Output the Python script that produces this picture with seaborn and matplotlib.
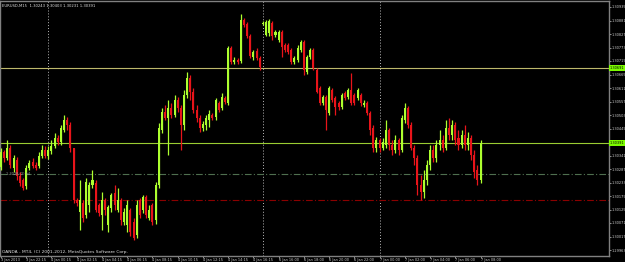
import matplotlib
matplotlib.use("Agg")
import matplotlib.pyplot as plt
import matplotlib.transforms as mtransforms
import numpy as np
import pandas as pd
import seaborn as sns

symbol = "EURUSD,M15"
copyright_text = "OANDA - MT4, (C) 2001-2012, MetaQuotes Software Corp."

opens = [1.30295, 1.30355, 1.30331, 1.30371, 1.30291, 1.30323, 1.30259, 1.30243, 1.30219, 1.30291,
         1.30315, 1.30303, 1.30299, 1.30339, 1.30363, 1.30339, 1.30359, 1.30379, 1.30411, 1.30395,
         1.30443, 1.30483, 1.30463, 1.30371, 1.30163, 1.30115, 1.30151, 1.30103, 1.30143, 1.30223,
         1.30231, 1.30143, 1.30103, 1.30163, 1.30063, 1.30131, 1.30191, 1.30123, 1.30163, 1.30075,
         1.30063, 1.30123, 1.30075, 1.30023, 1.30163, 1.30123, 1.30175, 1.30091, 1.30143, 1.30083,
         1.30223, 1.30443, 1.30515, 1.30491, 1.30531, 1.30503, 1.30563, 1.30531, 1.30463, 1.30583,
         1.30651, 1.30595, 1.30523, 1.30491, 1.30451, 1.30463, 1.30483, 1.30503, 1.30495, 1.30551,
         1.30531, 1.30571, 1.30551, 1.30771, 1.30715, 1.30723, 1.30719, 1.30883, 1.30867, 1.30819,
         1.30735, 1.30759, 1.30731, 1.30867, 1.30823, 1.30831, 1.30871, 1.30823, 1.30803, 1.30835,
         1.30783, 1.30783, 1.30763, 1.30715, 1.30723, 1.30763, 1.30795, 1.30675, 1.30735, 1.30763,
         1.30683, 1.30611, 1.30551, 1.30575, 1.30511, 1.30603, 1.30571, 1.30551, 1.30535, 1.30591,
         1.30575, 1.30603, 1.30583, 1.30571, 1.30583, 1.30543, 1.30551, 1.30511, 1.30451, 1.30371,
         1.30403, 1.30371, 1.30383, 1.30443, 1.30383, 1.30363, 1.30403, 1.30363, 1.30483, 1.30531,
         1.30463, 1.30371, 1.30331, 1.30223, 1.30195, 1.30243, 1.30303, 1.30363, 1.30331, 1.30383,
         1.30403, 1.30371, 1.30451, 1.30423, 1.30463, 1.30411, 1.30383, 1.30423, 1.30383, 1.30411,
         1.30343, 1.30283, 1.30243]

highs = [1.30371, 1.30363, 1.30403, 1.30383, 1.30343, 1.30335, 1.30275, 1.30251, 1.30303, 1.30323,
         1.30331, 1.30315, 1.30355, 1.30383, 1.30379, 1.30379, 1.30403, 1.30431, 1.30423, 1.30463,
         1.30503, 1.30495, 1.30475, 1.30371, 1.30171, 1.30243, 1.30163, 1.30251, 1.30235, 1.30283,
         1.30243, 1.30151, 1.30195, 1.30171, 1.30143, 1.30191, 1.30223, 1.30211, 1.30171, 1.30131,
         1.30163, 1.30131, 1.30091, 1.30163, 1.30171, 1.30183, 1.30183, 1.30143, 1.30151, 1.30235,
         1.30471, 1.30531, 1.30543, 1.30563, 1.30551, 1.30583, 1.30575, 1.30543, 1.30603, 1.30675,
         1.30663, 1.30611, 1.30543, 1.30503, 1.30479, 1.30503, 1.30523, 1.30511, 1.30571, 1.30559,
         1.30591, 1.30579, 1.30779, 1.30779, 1.30735, 1.30731, 1.30907, 1.30891, 1.30875, 1.30827,
         1.30763, 1.30771, 1.30739, 1.30879, 1.30883, 1.30887, 1.30879, 1.30843, 1.30843, 1.30843,
         1.30791, 1.30791, 1.30771, 1.30739, 1.30783, 1.30803, 1.30803, 1.30743, 1.30771, 1.30771,
         1.30691, 1.30619, 1.30583, 1.30583, 1.30619, 1.30611, 1.30579, 1.30559, 1.30591, 1.30599,
         1.30611, 1.30671, 1.30591, 1.30611, 1.30591, 1.30563, 1.30559, 1.30519, 1.30463, 1.30415,
         1.30411, 1.30411, 1.30483, 1.30451, 1.30403, 1.30423, 1.30411, 1.30503, 1.30551, 1.30539,
         1.30475, 1.30383, 1.30343, 1.30263, 1.30283, 1.30323, 1.30383, 1.30383, 1.30403, 1.30443,
         1.30423, 1.30483, 1.30491, 1.30483, 1.30475, 1.30443, 1.30443, 1.30463, 1.30435, 1.30423,
         1.30363, 1.30303, 1.30403]

lows = [1.30283, 1.30315, 1.30323, 1.30291, 1.30275, 1.30243, 1.30219, 1.30203, 1.30207, 1.30283,
        1.30291, 1.30283, 1.30291, 1.30331, 1.30331, 1.30327, 1.30347, 1.30371, 1.30383, 1.30383,
        1.30435, 1.30443, 1.30355, 1.30151, 1.30139, 1.30043, 1.30075, 1.30091, 1.30115, 1.30211,
        1.30115, 1.30099, 1.30043, 1.30103, 1.30035, 1.30115, 1.30123, 1.30115, 1.30063, 1.30063,
        1.30035, 1.30019, 1.30003, 1.30011, 1.30091, 1.30111, 1.30091, 1.30083, 1.30063, 1.30067,
        1.30211, 1.30431, 1.30483, 1.30343, 1.30491, 1.30495, 1.30515, 1.30363, 1.30443, 1.30571,
        1.30563, 1.30511, 1.30475, 1.30435, 1.30439, 1.30443, 1.30455, 1.30483, 1.30483, 1.30515,
        1.30523, 1.30547, 1.30543, 1.30707, 1.30707, 1.30707, 1.30711, 1.30855, 1.30811, 1.30731,
        1.30723, 1.30723, 1.30683, 1.30863, 1.30819, 1.30819, 1.30803, 1.30815, 1.30795, 1.30735,
        1.30755, 1.30747, 1.30707, 1.30707, 1.30715, 1.30755, 1.30663, 1.30667, 1.30727, 1.30683,
        1.30591, 1.30543, 1.30543, 1.30443, 1.30503, 1.30555, 1.30503, 1.30523, 1.30527, 1.30563,
        1.30567, 1.30543, 1.30543, 1.30563, 1.30539, 1.30535, 1.30503, 1.30423, 1.30355, 1.30355,
        1.30355, 1.30363, 1.30371, 1.30363, 1.30343, 1.30351, 1.30343, 1.30355, 1.30471, 1.30451,
        1.30363, 1.30303, 1.30183, 1.30163, 1.30171, 1.30223, 1.30283, 1.30315, 1.30315, 1.30363,
        1.30355, 1.30363, 1.30403, 1.30403, 1.30383, 1.30363, 1.30371, 1.30363, 1.30363, 1.30323,
        1.30251, 1.30223, 1.30231]

closes = [1.30355, 1.30331, 1.30371, 1.30303, 1.30331, 1.30259, 1.30231, 1.30211, 1.30291, 1.30311,
          1.30299, 1.30291, 1.30339, 1.30363, 1.30339, 1.30363, 1.30379, 1.30411, 1.30395, 1.30451,
          1.30483, 1.30463, 1.30371, 1.30163, 1.30151, 1.30163, 1.30091, 1.30235, 1.30223, 1.30243,
          1.30123, 1.30111, 1.30163, 1.30123, 1.30135, 1.30183, 1.30143, 1.30163, 1.30083, 1.30115,
          1.30143, 1.30035, 1.30011, 1.30143, 1.30103, 1.30175, 1.30103, 1.30123, 1.30075, 1.30223,
          1.30451, 1.30515, 1.30491, 1.30531, 1.30503, 1.30563, 1.30531, 1.30463, 1.30583, 1.30651,
          1.30595, 1.30523, 1.30491, 1.30451, 1.30467, 1.30491, 1.30507, 1.30491, 1.30563, 1.30523,
          1.30575, 1.30555, 1.30771, 1.30715, 1.30723, 1.30715, 1.30883, 1.30863, 1.30819, 1.30739,
          1.30755, 1.30731, 1.30695, 1.30871, 1.30875, 1.30879, 1.30819, 1.30835, 1.30835, 1.30775,
          1.30763, 1.30755, 1.30715, 1.30731, 1.30771, 1.30795, 1.30683, 1.30735, 1.30763, 1.30691,
          1.30595, 1.30551, 1.30575, 1.30523, 1.30611, 1.30563, 1.30535, 1.30535, 1.30583, 1.30571,
          1.30603, 1.30551, 1.30551, 1.30603, 1.30551, 1.30551, 1.30511, 1.30443, 1.30371, 1.30403,
          1.30371, 1.30395, 1.30443, 1.30383, 1.30363, 1.30403, 1.30363, 1.30491, 1.30531, 1.30463,
          1.30371, 1.30331, 1.30223, 1.30195, 1.30243, 1.30303, 1.30363, 1.30331, 1.30383, 1.30403,
          1.30371, 1.30451, 1.30423, 1.30463, 1.30403, 1.30383, 1.30423, 1.30383, 1.30411, 1.30343,
          1.30275, 1.30243, 1.30391]

time_tick_bars = [0, 8, 16, 24, 32, 40, 48, 56, 64, 72, 80, 88, 96, 104, 112, 120, 128, 136, 144, 152]
time_tick_labels = ["3 Jan 2013", "3 Jan 22:15", "4 Jan 00:15", "4 Jan 02:15", "4 Jan 04:15",
                    "4 Jan 06:15", "4 Jan 08:15", "4 Jan 10:15", "4 Jan 12:15", "4 Jan 14:15",
                    "4 Jan 16:15", "6 Jan 16:00", "6 Jan 18:00", "6 Jan 20:00", "6 Jan 22:00",
                    "7 Jan 00:00", "7 Jan 02:00", "7 Jan 04:00", "7 Jan 06:00", "7 Jan 08:00"]
separator_bars = [15, 83, 120]

price_ticks = [1.30935, 1.30881, 1.30827, 1.30773, 1.30719, 1.30665, 1.30611, 1.30557, 1.30503,
               1.30449, 1.30341, 1.30287, 1.30233, 1.30179, 1.30125, 1.30071, 1.30017, 1.29963]
level_upper = 1.30691
level_green_dashdot = 1.30267
level_red_dashdot = 1.30163
level_note = "1.3028 (2) h4"

# ---------------------------------------------------------------------------
sns.set_theme(style="dark", rc={"axes.facecolor": "black", "figure.facecolor": "black",
                                "axes.grid": False})
plt.rcParams["font.family"] = ["DejaVu Sans"]

df = pd.DataFrame({"open": opens, "high": highs, "low": lows, "close": closes})
df["bar"] = np.arange(len(df))
df["bull"] = df["close"] >= df["open"]

bull_col = "#adff2f"
bear_col = "#e8141a"
df["color"] = np.where(df["bull"], bull_col, bear_col)

W, H = 625, 262
fig = plt.figure(figsize=(W / 100, H / 100), dpi=100)
ax = fig.add_axes([0 / W, (H - 256) / H, 609 / W, 255 / H])
ax.set_facecolor("black")

# wicks
ax.vlines(df["bar"], df["low"], df["high"], colors=df["color"], linewidth=0.9, zorder=3)
# bodies
body_bottom = df[["open", "close"]].min(axis=1)
body_height = (df["close"] - df["open"]).abs().clip(lower=0.00002)
ax.bar(df["bar"], body_height, bottom=body_bottom, width=0.64, color=df["color"],
       linewidth=0, zorder=4)

# horizontal levels
last_close = closes[-1]
ax.axhline(level_upper, color="#bdb76b", linewidth=0.8, zorder=2)
ax.axhline(last_close, color="#9acd32", linewidth=0.8, zorder=2)
ax.axhline(level_green_dashdot, color="#4f6f4f", linewidth=0.8, linestyle=(0, (6, 2, 1, 2)), zorder=2)
ax.axhline(level_red_dashdot, color="#8b0000", linewidth=0.8, linestyle=(0, (6, 2, 1, 2)), zorder=2)

# period separators
for b in separator_bars:
    ax.axvline(b, color="#bbbbbb", linewidth=0.7, linestyle=(0, (1, 2)), zorder=1)

# limits
ax.set_xlim(-0.317, 192.7)
ax.set_ylim(1.29939, 1.30959)

# frame
for s in ax.spines.values():
    s.set_color("#808080")
    s.set_linewidth(1.0)
    s.set_visible(True)

small = 2.5

# price axis on the right
ax.yaxis.tick_right()
ax.set_yticks(price_ticks)
ax.set_yticklabels([f"{p:.5f}" for p in price_ticks])
ax.tick_params(axis="y", which="both", right=True, left=False, length=1.5, width=0.6,
               color="#aaaaaa", labelsize=small, labelcolor="#d0d0d0", pad=0.5)

# time axis
ax.set_xticks(time_tick_bars)
ax.set_xticklabels(time_tick_labels, ha="left")
ax.tick_params(axis="x", which="both", bottom=True, length=1.5, width=0.6, color="#aaaaaa",
               labelsize=small, labelcolor="#d0d0d0", pad=0.3)
for lbl in ax.get_xticklabels():
    lbl.set_horizontalalignment("left")

# highlighted price labels
trans = mtransforms.blended_transform_factory(ax.transAxes, ax.transData)
for val in (level_upper, last_close):
    ax.text(1.0015, val, f"{val:.5f}", transform=trans, ha="left", va="center",
            fontsize=small, color="black", zorder=10, clip_on=False,
            bbox=dict(boxstyle="square,pad=0.2", fc="#7cfc00", ec="none"))

# texts inside chart
o, h, l, c = opens[-1], highs[-1], lows[-1], closes[-1]
ax.text(0.004, 0.988, f"{symbol}  {o:.5f} {h:.5f} {l:.5f} {c:.5f}", transform=ax.transAxes,
        ha="left", va="top", fontsize=2.7, color="#e0e0e0", zorder=10)
ax.text(0.004, 0.006, copyright_text, transform=ax.transAxes, ha="left", va="bottom",
        fontsize=3.2, color="#e0e0e0", zorder=10)
ax.text(1.5, level_green_dashdot + 0.00002, level_note, ha="left", va="center", fontsize=small,
        color="#a0a0a0", zorder=10)

fig.savefig("out.png", dpi=100, facecolor="black")
